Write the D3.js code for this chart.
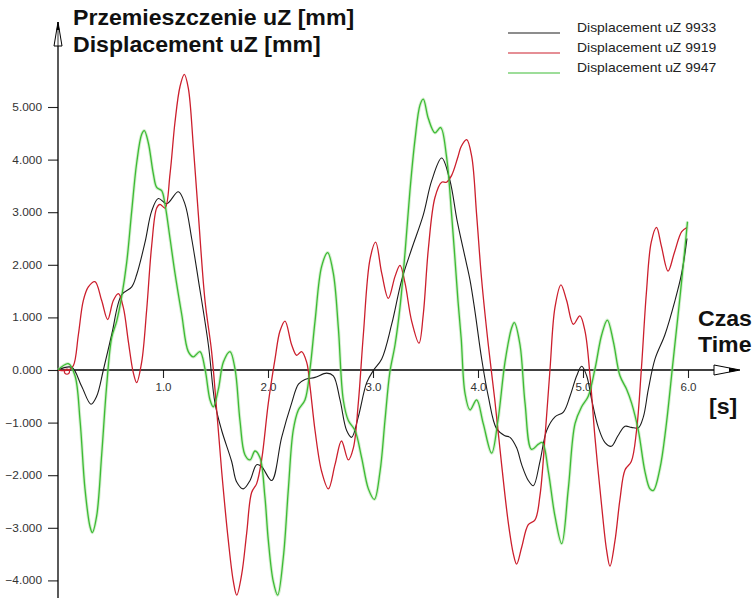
<!DOCTYPE html>
<html>
<head>
<meta charset="utf-8">
<script src="https://cdn.jsdelivr.net/npm/d3@7"></script>
<style>
  html, body { margin: 0; padding: 0; background: #fff; }
  svg { display: block; }
  text { font-family: Arial, "Liberation Sans", sans-serif; }
</style>
</head>
<body>
<svg id="chart" width="753" height="598"></svg>
<script>
// Time ticks [s] and displacement ticks [mm]
const xTicks = [1, 2, 3, 4, 5, 6];
const yTicks = [-4, -3, -2, -1, 0, 1, 2, 3, 4, 5];

const seriesNames = ["Displacement uZ 9933", "Displacement uZ 9919", "Displacement uZ 9947"];
const seriesColors = ["#1c1c1c", "#cc1f2d", "#3dbb34"];

// [t (s), uZ (mm)]
const uz9933 = [
  [0,0],[0.13,0.05],[0.225,-0.31],[0.314,-0.65],[0.368,-0.5],[0.432,0],[0.511,0.67],[0.606,1.43],
  [0.702,1.58],[0.749,1.81],[0.829,2.43],[0.892,3.02],[0.956,3.26],[1.035,3.16],[1.146,3.39],
  [1.21,3.15],[1.273,2.5],[1.337,1.71],[1.432,0.48],[1.495,-0.63],[1.559,-1.15],[1.654,-1.74],
  [1.702,-2.13],[1.765,-2.26],[1.829,-2.1],[1.892,-1.8],[1.94,-1.84],[2.035,-2.1],[2.13,-1.28],
  [2.225,-0.63],[2.29,-0.27],[2.352,-0.18],[2.448,-0.14],[2.559,-0.06],[2.622,-0.11],[2.686,-0.57],
  [2.749,-1.15],[2.797,-1.28],[2.86,-0.89],[2.94,-0.24],[3.003,-0.01],[3.083,0.21],[3.178,0.87],
  [3.273,1.71],[3.368,2.3],[3.479,2.95],[3.559,3.6],[3.654,4.03],[3.733,3.6],[3.8,2.85],
  [3.876,2.15],[3.924,1.71],[3.97,1.13],[4.035,0.21],[4.098,-0.5],[4.178,-1.12],[4.257,-1.25],
  [4.305,-1.28],[4.368,-1.48],[4.416,-1.8],[4.479,-2.1],[4.527,-2.2],[4.59,-1.74],[4.654,-1.15],
  [4.733,-0.89],[4.813,-0.8],[4.876,-0.5],[4.94,-0.11],[4.987,0.07],[5.035,-0.11],[5.083,-0.57],
  [5.146,-1.09],[5.21,-1.38],[5.27,-1.45],[5.333,-1.25],[5.4,-1.07],[5.46,-1.09],[5.527,-1.1],
  [5.575,-0.89],[5.622,-0.37],[5.686,0.21],[5.78,0.67],[5.876,1.32],[5.94,1.84],[5.99,2.5]
];

const uz9919 = [
  [0,0],[0.1,0],[0.146,0.08],[0.194,0.67],[0.241,1.32],[0.289,1.58],[0.352,1.68],[0.416,1.32],
  [0.473,0.96],[0.527,1.32],[0.575,1.45],[0.622,1.19],[0.67,0.54],[0.717,-0.05],[0.749,-0.24],
  [0.797,0.15],[0.844,1.13],[0.892,2.36],[0.94,3.08],[0.971,3.15],[1.019,3.08],[1.067,3.73],
  [1.114,4.71],[1.162,5.39],[1.203,5.62],[1.241,5.36],[1.289,4.25],[1.337,2.95],[1.4,1.32],
  [1.463,0.35],[1.511,-0.76],[1.559,-1.93],[1.622,-3.24],[1.67,-4.02],[1.702,-4.28],[1.749,-3.89],
  [1.797,-3.1],[1.844,-2.33],[1.892,-2.16],[1.94,-1.7],[2.003,-0.63],[2.067,0.21],[2.114,0.74],
  [2.162,0.93],[2.225,0.48],[2.273,0.28],[2.32,0.35],[2.368,0.15],[2.4,-0.31],[2.448,-1.15],
  [2.511,-1.93],[2.575,-2.26],[2.638,-1.8],[2.7,-1.35],[2.765,-1.71],[2.813,-1.48],[2.86,-0.63],
  [2.908,0.67],[2.971,2.1],[3.025,2.43],[3.083,1.84],[3.146,1.36],[3.21,1.78],[3.257,1.99],
  [3.305,1.65],[3.368,0.93],[3.438,0.51],[3.479,1.06],[3.527,2.3],[3.59,3.28],[3.654,3.57],
  [3.7,3.57],[3.749,3.7],[3.81,4.06],[3.84,4.25],[3.892,4.38],[3.94,4.06],[3.987,2.95],
  [4.035,1.71],[4.098,0.48],[4.16,-0.57],[4.225,-1.8],[4.289,-2.91],[4.337,-3.5],[4.368,-3.69],
  [4.416,-3.37],[4.479,-2.94],[4.543,-2.85],[4.59,-2.39],[4.638,-1.28],[4.686,0.02],[4.733,1.19],
  [4.79,1.62],[4.844,1.32],[4.908,0.87],[4.97,1.03],[5.019,0.74],[5.067,-0.11],[5.114,-1.28],
  [5.178,-2.59],[5.225,-3.43],[5.257,-3.73],[5.305,-3.24],[5.352,-2.46],[5.4,-1.9],[5.46,-1.74],
  [5.51,-1.15],[5.556,0.02],[5.603,1.45],[5.65,2.43],[5.7,2.71],[5.746,2.36],[5.81,1.88],
  [5.87,2.23],[5.94,2.63],[5.99,2.71]
];

const uz9947 = [
  [0,0],[0.098,0.12],[0.162,-0.11],[0.21,-0.96],[0.257,-2.26],[0.305,-2.98],[0.327,-3.09],
  [0.368,-2.78],[0.416,-1.61],[0.463,-0.31],[0.511,0.61],[0.559,0.93],[0.606,1.39],[0.654,2.04],
  [0.702,3.02],[0.749,3.93],[0.797,4.48],[0.822,4.55],[0.86,4.32],[0.908,3.73],[0.94,3.47],
  [0.987,3.41],[1.019,3.15],[1.067,2.5],[1.114,1.84],[1.178,1.06],[1.241,0.35],[1.289,0.25],
  [1.352,0.35],[1.4,0.02],[1.448,-0.57],[1.479,-0.7],[1.527,-0.37],[1.575,0.15],[1.638,0.35],
  [1.686,0.02],[1.733,-0.96],[1.78,-1.61],[1.829,-1.71],[1.876,-1.54],[1.924,-1.67],[1.97,-2.4],
  [2.003,-3.24],[2.05,-4.02],[2.092,-4.28],[2.146,-3.56],[2.194,-2.26],[2.24,-1.15],[2.289,-0.76],
  [2.352,-0.57],[2.4,0.02],[2.448,0.93],[2.511,1.97],[2.568,2.23],[2.622,1.84],[2.67,0.8],
  [2.717,-0.57],[2.765,-0.96],[2.829,-1.15],[2.892,-1.67],[2.956,-2.26],[3.013,-2.46],[3.067,-1.93],
  [3.114,-0.96],[3.16,-0.05],[3.21,0.48],[3.257,1.19],[3.305,2.23],[3.352,3.41],[3.4,4.38],
  [3.448,5.04],[3.479,5.15],[3.527,4.78],[3.59,4.51],[3.644,4.61],[3.7,4.06],[3.749,2.95],
  [3.781,2.1],[3.81,1.3],[3.84,0.6],[3.876,-0.44],[3.924,-0.76],[3.987,-0.57],[4.05,-1.02],
  [4.13,-1.58],[4.19,-0.96],[4.257,0.15],[4.32,0.8],[4.346,0.9],[4.4,0.48],[4.448,-0.63],
  [4.51,-1.51],[4.575,-1.41],[4.613,-1.38],[4.67,-1.93],[4.733,-2.78],[4.797,-3.3],[4.86,-2.26],
  [4.924,-1.02],[4.987,-0.7],[5.05,-0.5],[5.114,0.02],[5.178,0.67],[5.232,0.95],[5.289,0.54],
  [5.352,-0.11],[5.416,-0.37],[5.463,-0.63],[5.527,-1.15],[5.59,-1.93],[5.638,-2.26],[5.67,-2.29],
  [5.733,-1.87],[5.79,-1.09],[5.857,0.15],[5.92,1.32],[5.97,2.3],[5.995,2.82]
];

// small start marker on the 9919 trace
const startMarker9919 = [[0.085, -0.03]];

const svg = d3.select("#chart");

const x = d3.scaleLinear().domain([0, 6]).range([58, 688]);
const y = d3.scaleLinear().domain([-4, 5]).range([580.4, 107]);

const axisColor = "#000";
const tickTextColor = "#333";
const FONT = "Arial, 'Liberation Sans', sans-serif";

// widen glyphs slightly (the lettering of this chart is broad)
function widen(sel, k) {
  sel.each(function () {
    const len = this.getComputedTextLength();
    d3.select(this).attr("textLength", len * k).attr("lengthAdjust", "spacingAndGlyphs");
  });
}

// Y axis with ticks and labels
const yAxis = svg.append("g")
  .attr("transform", `translate(${x(0)},0)`)
  .call(d3.axisLeft(y).tickValues(yTicks).tickFormat(d3.format(".3f")).tickSize(10).tickPadding(6));
yAxis.select(".domain").remove();
yAxis.selectAll(".tick line").attr("stroke", "#222").attr("stroke-width", 1.1);
yAxis.selectAll(".tick text")
  .attr("fill", tickTextColor)
  .style("font-family", FONT)
  .style("font-size", "11px")
  .call(widen, 1.08);

// X axis with ticks and labels
const xAxis = svg.append("g")
  .attr("transform", `translate(0,${y(0)})`)
  .call(d3.axisBottom(x).tickValues(xTicks).tickFormat(d3.format(".1f")).tickSize(8).tickPadding(5));
xAxis.select(".domain").remove();
xAxis.selectAll(".tick line").attr("stroke", "#222").attr("stroke-width", 1.1);
xAxis.selectAll(".tick text")
  .attr("fill", tickTextColor)
  .style("font-family", FONT)
  .style("font-size", "11px")
  .call(widen, 1.05);

// Axis lines with arrow heads
const x0 = x(0), y0 = y(0);
svg.append("line").attr("x1", x0).attr("x2", x0).attr("y1", 22).attr("y2", 598)
  .attr("stroke", axisColor).attr("stroke-width", 1.3);
svg.append("line").attr("x1", x0).attr("x2", 736).attr("y1", y0).attr("y2", y0)
  .attr("stroke", axisColor).attr("stroke-width", 1.3);

// vertical arrow (open narrow triangle with dark tip)
svg.append("path")
  .attr("d", `M${x0},22 L${x0 - 4},46 L${x0 + 4},46 Z`)
  .attr("fill", "#fff").attr("stroke", axisColor).attr("stroke-width", 1);
svg.append("path")
  .attr("d", `M${x0},22 L${x0 - 1.5},30 L${x0 + 1.5},30 Z`)
  .attr("fill", axisColor);
svg.append("line").attr("x1", x0).attr("x2", x0).attr("y1", 30).attr("y2", 46)
  .attr("stroke", axisColor).attr("stroke-width", 0.8);

// horizontal arrow
svg.append("path")
  .attr("d", `M740,${y0} L714,${y0 - 5} L714,${y0 + 5} Z`)
  .attr("fill", "#fff").attr("stroke", axisColor).attr("stroke-width", 1);
svg.append("path")
  .attr("d", `M740,${y0} L729,${y0 - 2.2} L729,${y0 + 2.2} Z`)
  .attr("fill", axisColor);

// Series lines
const line = d3.line()
  .x(d => x(d[0]))
  .y(d => y(d[1]))
  .curve(d3.curveCatmullRom.alpha(0.5));

const series = [uz9933, uz9919, uz9947];
const plot = svg.append("g");

// soft halo under the green trace
plot.append("path")
  .datum(uz9947)
  .attr("d", line)
  .attr("fill", "none")
  .attr("stroke", "#9fdc95")
  .attr("stroke-opacity", 0.45)
  .attr("stroke-width", 3.2)
  .attr("stroke-linejoin", "round");

series.forEach((data, i) => {
  plot.append("path")
    .datum(data)
    .attr("d", line)
    .attr("fill", "none")
    .attr("stroke", seriesColors[i])
    .attr("stroke-width", i === 0 ? 1.1 : 1.3)
    .attr("stroke-linejoin", "round");
});

plot.selectAll("circle.start")
  .data(startMarker9919)
  .enter().append("circle")
  .attr("class", "start")
  .attr("cx", d => x(d[0]))
  .attr("cy", d => y(d[1]))
  .attr("r", 2.6)
  .attr("fill", "none")
  .attr("stroke", seriesColors[1])
  .attr("stroke-width", 1.1);

// Axis titles
const titleStyle = sel => sel
  .attr("fill", "#111")
  .style("font-family", FONT)
  .style("font-size", "22px")
  .style("font-weight", "bold");

const titles = [
  { t: "Przemieszczenie uZ [mm]", x: 73, y: 25 },
  { t: "Displacement uZ [mm]", x: 73, y: 52 },
  { t: "Czas", x: 698, y: 326 },
  { t: "Time", x: 698, y: 352 },
  { t: "[s]", x: 709, y: 414 }
];
titles.forEach(d => {
  svg.append("text").attr("x", d.x).attr("y", d.y).text(d.t).call(titleStyle).call(widen, 1.05);
});

// Legend
const legend = svg.append("g");
seriesNames.forEach((name, i) => {
  const ly = 32 + i * 20;
  legend.append("line")
    .attr("x1", 508).attr("x2", 560)
    .attr("y1", ly + 1).attr("y2", ly + 1)
    .attr("stroke", seriesColors[i]).attr("stroke-width", 1.2);
  legend.append("text")
    .attr("x", 577).attr("y", ly)
    .attr("fill", "#222")
    .style("font-family", FONT)
    .style("font-size", "13px")
    .text(name)
    .call(widen, 1.07);
});
</script>
</body>
</html>
